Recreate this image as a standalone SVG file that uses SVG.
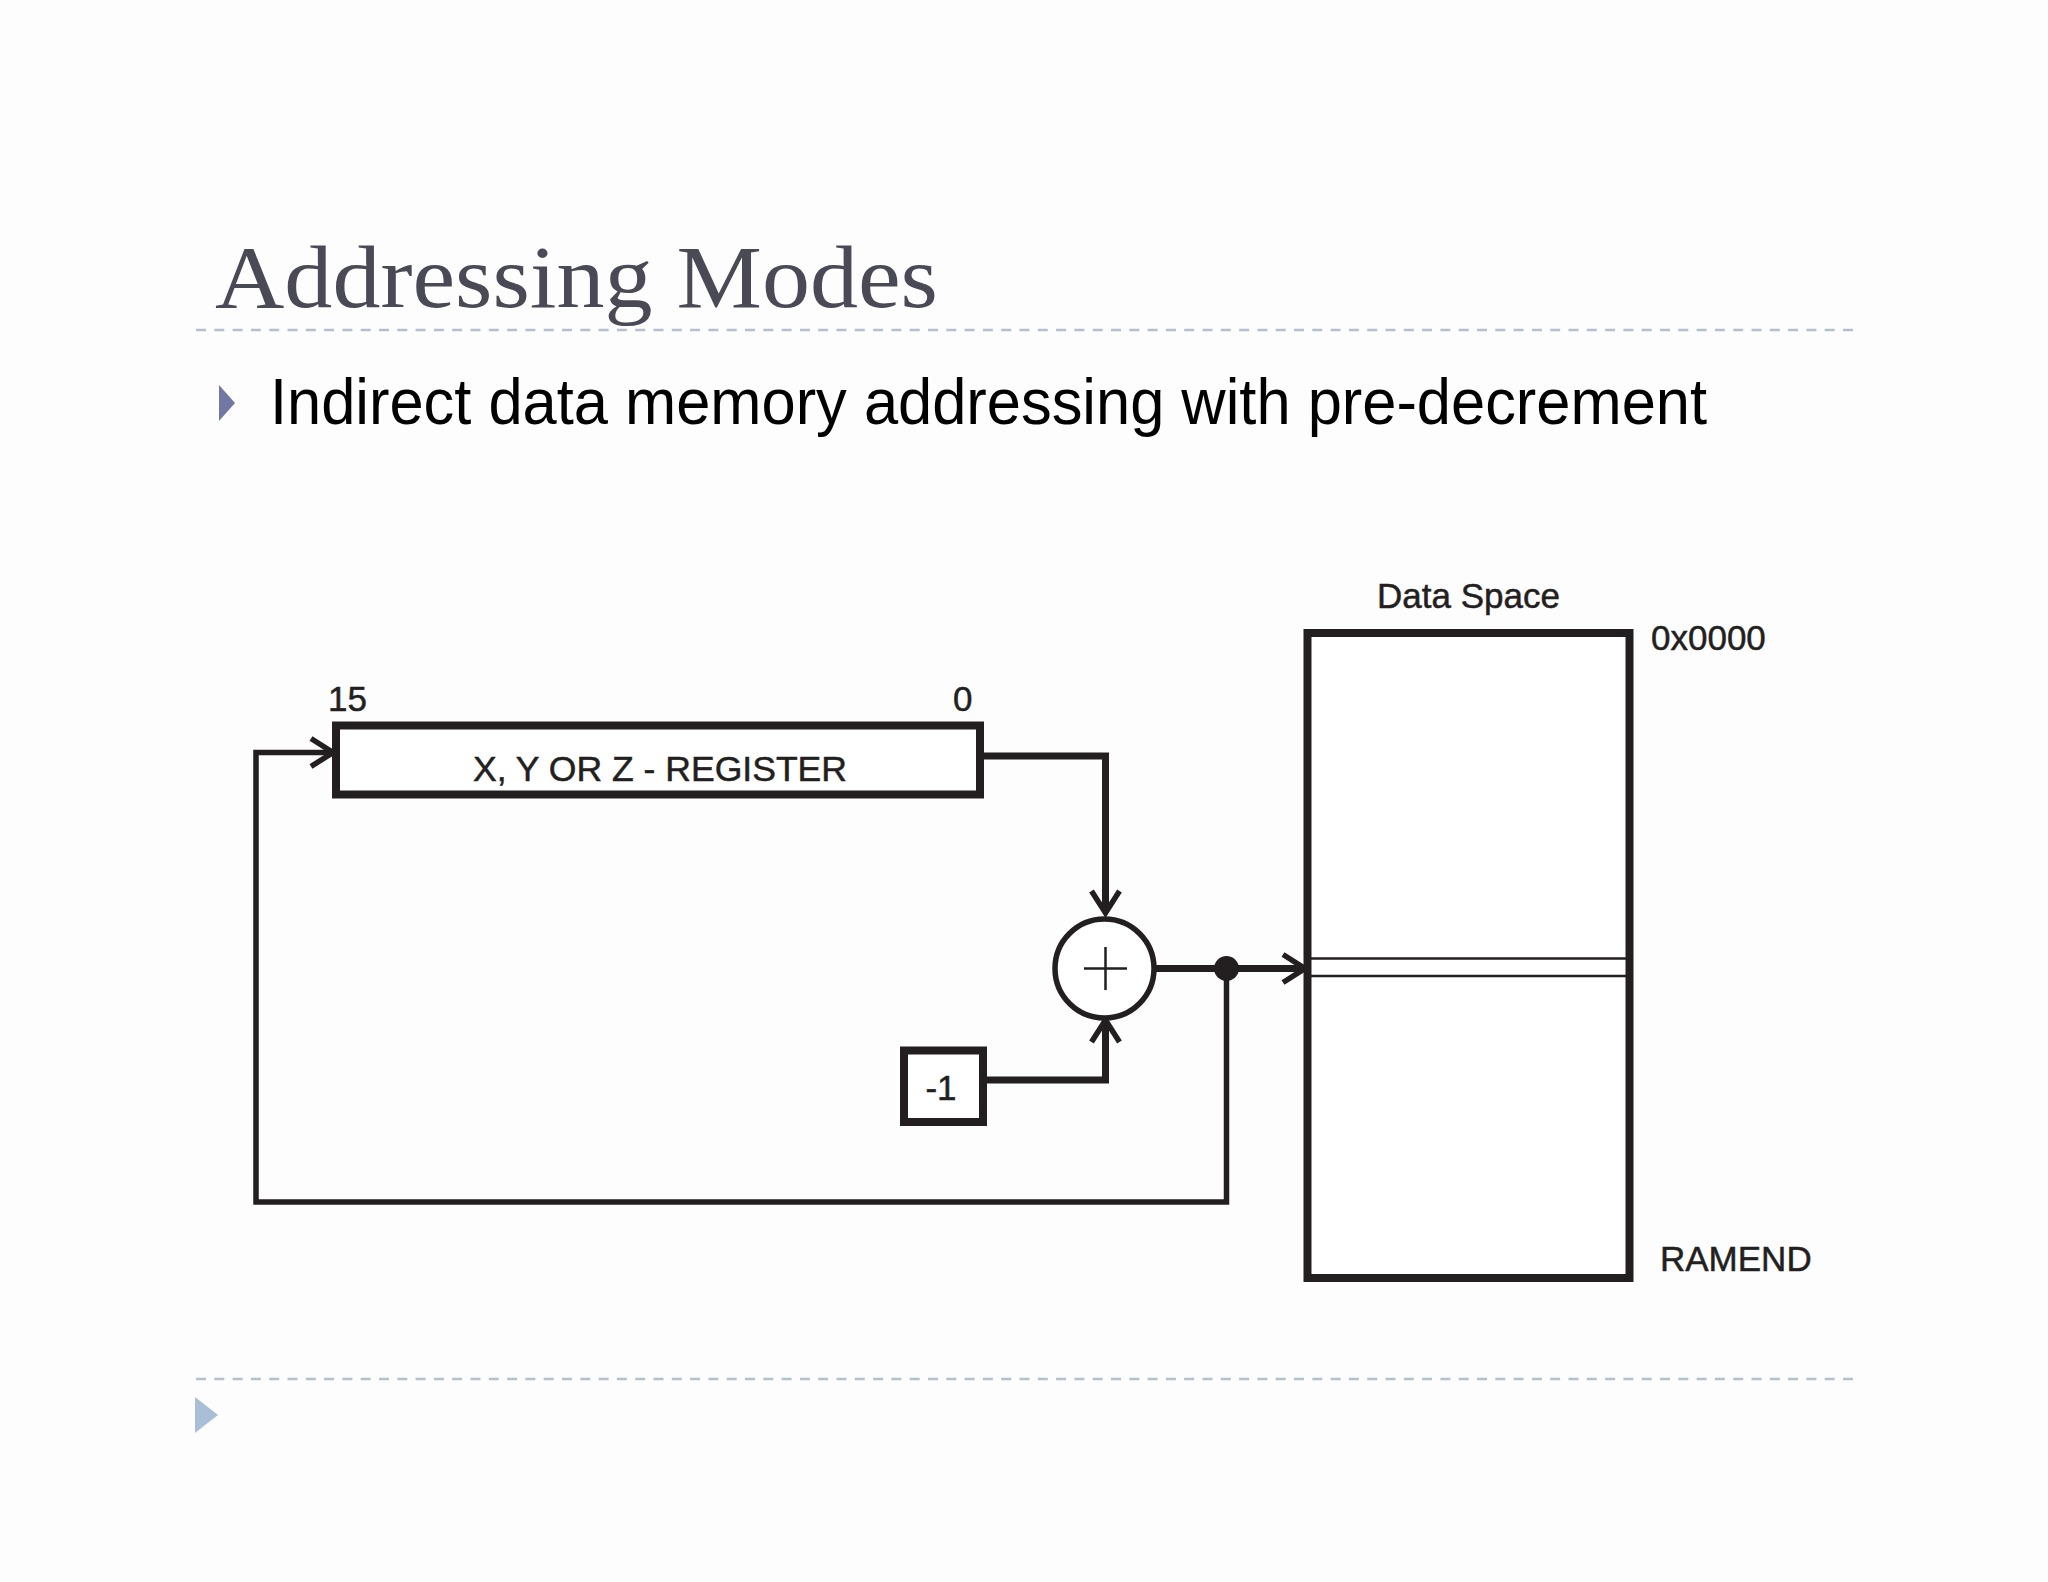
<svg xmlns="http://www.w3.org/2000/svg" width="2048" height="1582" viewBox="0 0 2048 1582">
  <style>
    .title { font-family: "Liberation Serif", "Times New Roman", serif; font-size: 89px; fill: #4a4a56; }
    .bullet { font-family: "Liberation Sans", Arial, sans-serif; font-size: 64px; fill: #000000; }
    .lbl { font-family: "Liberation Sans", Arial, sans-serif; font-size: 35px; fill: #231f20; stroke: #231f20; stroke-width: 0.5; }
    .box { fill: #ffffff; stroke: #231f20; stroke-width: 8; }
    .wire { fill: none; stroke: #231f20; stroke-linejoin: miter; }
    .dash { stroke: #b4c0cf; stroke-width: 2.5; stroke-dasharray: 10 8.3; }
  </style>
  <defs>
    <marker id="chev" markerUnits="userSpaceOnUse" markerWidth="60" markerHeight="60" viewBox="-30 -30 60 60" refX="0" refY="0" orient="auto" overflow="visible">
      <path d="M-19,-14 L3,0 L-19,14" fill="none" stroke="#231f20" stroke-width="5.5" stroke-linejoin="miter" stroke-miterlimit="10"/>
    </marker>
  </defs>
  <rect x="0" y="0" width="2048" height="1582" fill="#fdfdfe"/>

  <!-- slide chrome -->
  <text class="title" x="215" y="307" textLength="723" lengthAdjust="spacingAndGlyphs">Addressing Modes</text>
  <line class="dash" x1="196" y1="330" x2="1853" y2="330"/>
  <polygon points="219,385 235,403 219,421" fill="#7179a3"/>
  <text class="bullet" x="270" y="424" textLength="1437" lengthAdjust="spacingAndGlyphs">Indirect data memory addressing with pre-decrement</text>
  <line class="dash" x1="196" y1="1379" x2="1853" y2="1379"/>
  <polygon points="195,1397 218,1415 195,1433" fill="#a9bfd6"/>

  <!-- connectors -->
  <g id="connectors">
    <path class="wire" stroke-width="7" d="M980,756 H1105.5 V910" marker-end="url(#chev)"/>
    <path class="wire" stroke-width="7" d="M983,1080 H1105.5 V1023" marker-end="url(#chev)"/>
    <path class="wire" stroke-width="7" d="M1154,968.5 H1302" marker-end="url(#chev)"/>
    <path class="wire" stroke-width="5.5" d="M1226.5,968.5 V1202 H256 V752.5 H330" marker-end="url(#chev)"/>
    <circle cx="1226.5" cy="968.5" r="12.5" fill="#231f20"/>
  </g>

  <!-- register -->
  <g id="register">
    <rect class="box" x="336" y="725.5" width="644" height="69" stroke-width="7.5"/>
    <text class="lbl" x="660" y="781" text-anchor="middle" textLength="374" lengthAdjust="spacingAndGlyphs">X, Y OR Z - REGISTER</text>
    <text class="lbl" x="328" y="711">15</text>
    <text class="lbl" x="953" y="711">0</text>
  </g>

  <!-- adder -->
  <g id="adder">
    <circle cx="1104.5" cy="968.5" r="49.5" fill="#ffffff" stroke="#231f20" stroke-width="5.5"/>
    <path d="M1084,968.5 H1127 M1105.5,947 V990" stroke="#231f20" stroke-width="2.5" fill="none"/>
  </g>

  <!-- constant -1 -->
  <g id="minus-one">
    <rect class="box" x="904" y="1050.5" width="79" height="71.5"/>
    <text class="lbl" x="941" y="1100" text-anchor="middle">-1</text>
  </g>

  <!-- data space -->
  <g id="data-space">
    <rect class="box" x="1307.5" y="633" width="322" height="645"/>
    <line x1="1311" y1="958.5" x2="1626" y2="958.5" stroke="#231f20" stroke-width="2.5"/>
    <line x1="1311" y1="976" x2="1626" y2="976" stroke="#231f20" stroke-width="2.5"/>
    <text class="lbl" x="1468.5" y="608" text-anchor="middle">Data Space</text>
    <text class="lbl" x="1651" y="650">0x0000</text>
    <text class="lbl" x="1660" y="1271">RAMEND</text>
  </g>
</svg>
